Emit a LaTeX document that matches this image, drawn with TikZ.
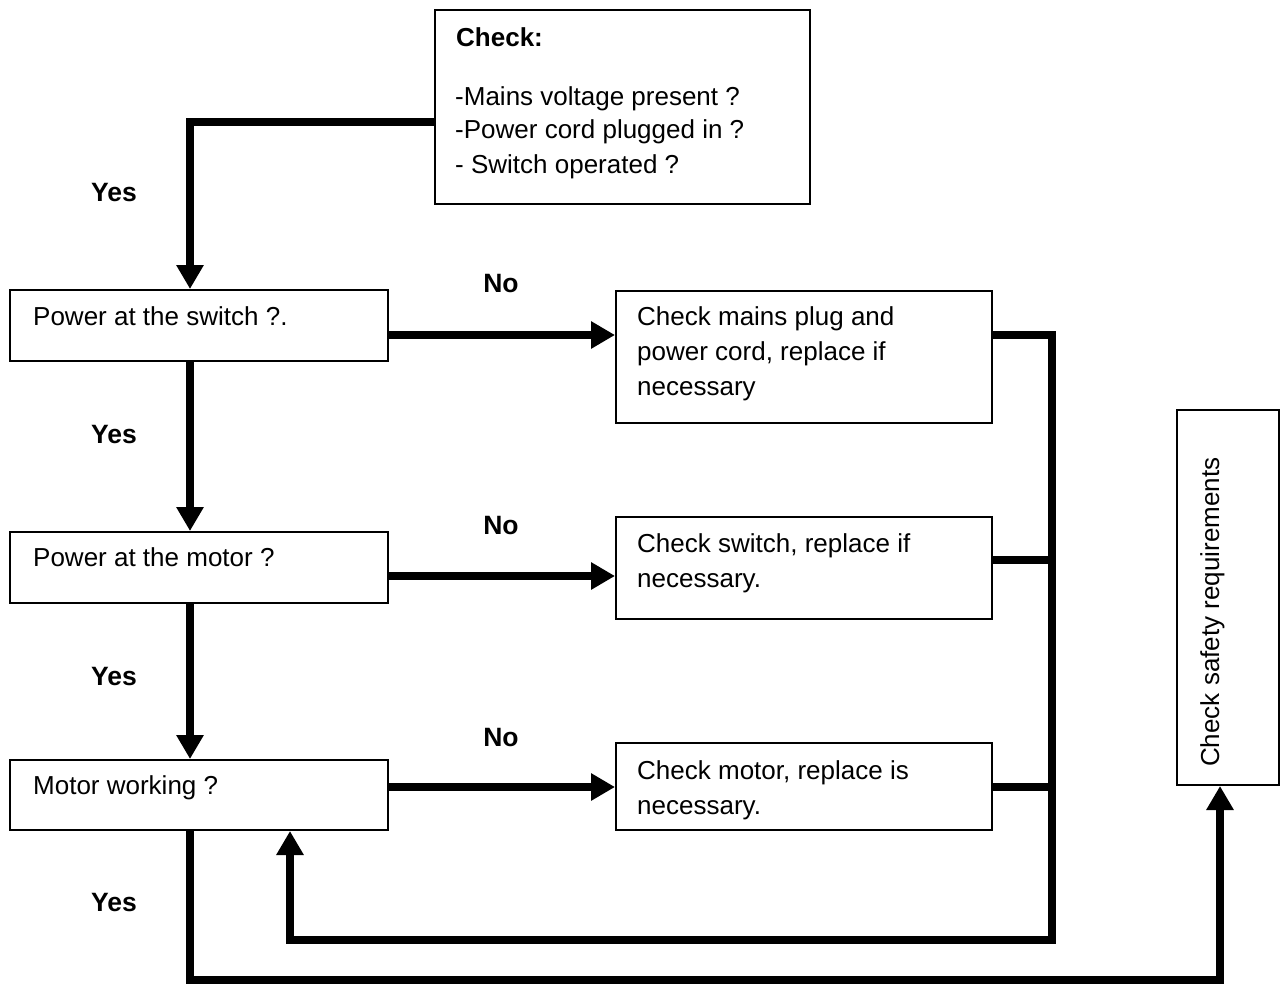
\documentclass[tikz,border=0pt]{standalone}
\usepackage{fontspec}
\setmainfont{Liberation Sans}
\usetikzlibrary{arrows.meta}
\tikzset{
  box/.style={draw=black, line width=2pt, rectangle, inner sep=0pt, fill=white},
  txt/.style={inner sep=0pt, font=\fontsize{26}{34}\selectfont, anchor=base west},
  lbl/.style={inner sep=0pt, font=\fontsize{26.5}{30}\selectfont\bfseries},
  conn/.style={line width=7.5pt, line join=miter},
  arr/.style={conn, -{Triangle[length=24pt, width=26pt]}}
}
\begin{document}
\begin{tikzpicture}[x=1pt, y=-1pt]
\useasboundingbox (0,0) rectangle (1281,987);
% boxes
\node[box, minimum width=375pt, minimum height=194pt] (chk) at (622.5,107) {};
\node[box, minimum width=378pt, minimum height=71pt] (sw) at (199,325.5) {};
\node[box, minimum width=378pt, minimum height=71pt] (mo) at (199,567.5) {};
\node[box, minimum width=378pt, minimum height=70pt] (mw) at (199,795) {};
\node[box, minimum width=376pt, minimum height=132pt] (b1) at (804,357) {};
\node[box, minimum width=376pt, minimum height=102pt] (b2) at (804,568) {};
\node[box, minimum width=376pt, minimum height=87pt] (b3) at (804,786.5) {};
\node[box, minimum width=102pt, minimum height=375pt] (sf) at (1228,597.5) {};
% texts
\node[txt, font=\fontsize{26}{34}\selectfont\bfseries] (chk0) at (456,47) {Check:};
\node[txt] (chk1) at (455,106) {-Mains voltage present ?};
\node[txt] (chk2) at (455,139) {-Power cord plugged in ?};
\node[txt] (chk3) at (455,174) {- Switch operated ?};
\node[txt] (swt) at (33,325) {Power at the switch ?.};
\node[txt] (mot) at (33,566) {Power at the motor ?};
\node[txt] (mwt) at (33,794) {Motor working ?};
\node[txt] (b1a) at (637,325) {Check mains plug and};
\node[txt] (b1b) at (637,360) {power cord, replace if};
\node[txt] (b1c) at (637,395) {necessary};
\node[txt] (b2a) at (637,552) {Check switch, replace if};
\node[txt] (b2b) at (637,587) {necessary.};
\node[txt] (b3a) at (637,779) {Check motor, replace is};
\node[txt] (b3b) at (637,814) {necessary.};
\node[txt, rotate=90] (sft) at (1219,767) {Check safety requirements};
% labels
\node[lbl] (y1) at (114,193) {Yes};
\node[lbl] (y2) at (114,435) {Yes};
\node[lbl] (y3) at (114,677) {Yes};
\node[lbl] (y4) at (114,903) {Yes};
\node[lbl] (n1) at (501,284) {No};
\node[lbl] (n2) at (501,526) {No};
\node[lbl] (n3) at (501,738) {No};
% helper coordinates
\coordinate (a1) at (190,122);
\coordinate (h1) at (0,335);
\coordinate (h2) at (0,576);
\coordinate (h3) at (0,787);
\coordinate (h2r) at (0,560);
\coordinate (r1) at (1052,335);
\coordinate (r2) at (1052,940);
\coordinate (r3) at (290,940);
\coordinate (q1) at (190,980);
\coordinate (q2) at (1220,980);
% connectors
\draw[arr] (chk.west |- a1) -- (a1) -- (sw.north -| a1);
\draw[arr] (sw.south -| a1) -- (mo.north -| a1);
\draw[arr] (mo.south -| a1) -- (mw.north -| a1);
\draw[arr] (sw.east |- h1) -- (b1.west |- h1);
\draw[arr] (mo.east |- h2) -- (b2.west |- h2);
\draw[arr] (mw.east |- h3) -- (b3.west |- h3);
\draw[arr] (b1.east |- r1) -- (r1) -- (r2) -- (r3) -- (mw.south -| r3);
\draw[conn] (b2.east |- h2r) -- (r1 |- h2r);
\draw[conn] (b3.east |- h3) -- (r1 |- h3);
\draw[arr] (mw.south -| q1) -- (q1) -- (q2) -- (sf.south -| q2);
\end{tikzpicture}
\end{document}
